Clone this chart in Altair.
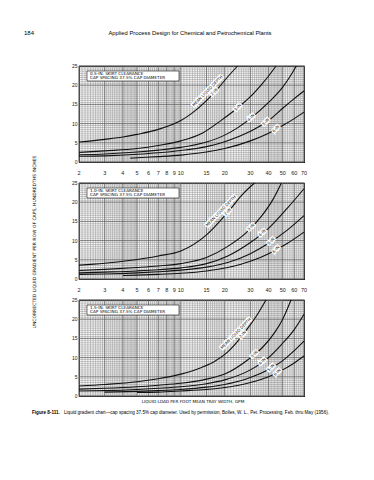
import altair as alt
import numpy as np
import pandas as pd

# ---------------- data ----------------
X_TICKS = [2, 3, 4, 5, 6, 7, 8, 9, 10, 15, 20, 30, 40, 50, 60, 70]
Y_TICKS = [0, 5, 10, 15, 20, 25]
DEPTHS = ["2-IN", "3-IN", "4-IN", "5-IN", "6-IN"]
CLEARANCES = ["0.5-IN. SKIRT CLEARANCE", "1.0-IN. SKIRT CLEARANCE", "1.5-IN. SKIRT CLEARANCE"]
SPACING_NOTE = "CAP SPACING 37.5% CAP DIAMETER"
MEAN_LABEL = "MEAN LIQUID DEPTH"
HEADER_PAGE = "184"
HEADER_TITLE = "Applied Process Design for Chemical and Petrochemical Plants"
X_TITLE = "LIQUID LOAD PER FOOT MEAN TRAY WIDTH, GPM"
Y_TITLE = "UNCORRECTED LIQUID GRADIENT PER ROW OF CAPS, HUNDREDTHS INCHES"
CAPTION_BOLD = "Figure 8-111."
CAPTION_REST = ("Liquid gradient chart\u2014cap spacing 37.5% cap diameter. Used by permission, "
                "Bolles, W. L., Pet. Processing, Feb. thru May (1956).")

# panel 1: 0.5-in skirt clearance
p1_x = [
    [2, 3, 4, 5, 7, 10, 12, 15, 18, 21, 24.5],
    [2, 3, 5, 7, 10, 14, 19, 24, 30, 36, 40, 45],
    [2, 3, 5, 7, 10, 15, 20, 30, 40, 50, 56, 62],
    [2, 3, 5, 7, 10, 15, 20, 30, 40, 50, 60, 70],
    [4.5, 5, 7, 10, 15, 20, 30, 40, 50, 60, 70],
]
p1_y = [
    [5.2, 5.9, 6.5, 7.2, 8.5, 10.8, 12.8, 16.0, 19.2, 22.2, 25],
    [2.5, 2.9, 3.5, 4.3, 5.5, 7.5, 10.9, 13.8, 17.0, 20.3, 22.4, 25],
    [1.9, 2.1, 2.6, 3.1, 3.8, 5.2, 7.0, 11.3, 15.5, 19.5, 22.2, 25],
    [1.5, 1.6, 2.0, 2.4, 3.0, 4.0, 5.3, 8.0, 10.8, 14.0, 16.5, 18.5],
    [1.0, 1.1, 1.4, 1.8, 2.6, 3.5, 5.5, 7.5, 9.5, 11.3, 13.0],
]
p1_label_x = [17, 24.6, 30.4, 38.4, 45]

# panel 2: 1.0-in skirt clearance
p2_x = [
    [2, 3, 4.4, 7, 10, 15, 21, 26.6, 32],
    [2, 3, 5, 7, 10, 15, 21, 28, 36, 43, 49],
    [2, 3, 5, 7, 10, 15, 21, 30, 40, 54, 70],
    [2, 3, 5, 7, 10, 15, 21, 30, 40, 54, 70],
    [4, 5, 7, 10, 15, 21, 30, 40, 54, 70],
]
p2_y = [
    [3.6, 4.1, 4.8, 6.0, 7.3, 11.5, 17.4, 22.1, 25],
    [2.2, 2.5, 3.0, 3.4, 4.0, 5.6, 8.5, 12.0, 16.5, 20.8, 25],
    [1.6, 1.8, 2.1, 2.4, 2.9, 4.0, 6.0, 9.5, 13.2, 18.5, 23.5],
    [1.2, 1.3, 1.6, 1.9, 2.3, 3.1, 4.3, 6.6, 9.3, 12.8, 16.5],
    [0.9, 1.0, 1.2, 1.5, 2.1, 3.0, 4.6, 6.6, 9.3, 12.2],
]
p2_label_x = [21, 30.4, 36.3, 41.7, 45.1]

# panel 3: 1.5-in skirt clearance
p3_x = [
    [2, 3, 5, 7, 10, 14, 17, 21, 24.6, 29, 33.6, 38.4],
    [2, 3, 5, 7, 10, 15, 20, 29, 36, 44, 50, 57],
    [2, 3, 5, 7, 10, 15, 20, 30, 40, 49, 60, 70],
    [3, 5, 7, 10, 15, 20, 30, 40, 50, 60, 70],
    [5, 7, 10, 15, 20, 30, 40, 50, 60, 70],
]
p3_y = [
    [2.6, 3.0, 3.7, 4.5, 5.7, 7.5, 9.0, 11.5, 14.3, 17.8, 21.3, 25],
    [1.8, 2.0, 2.4, 2.8, 3.3, 4.4, 5.7, 9.5, 12.5, 16.5, 20.0, 25],
    [1.3, 1.4, 1.7, 2.0, 2.4, 3.2, 4.2, 6.8, 10.0, 13.4, 17.3, 21.3],
    [1.0, 1.2, 1.4, 1.7, 2.3, 3.0, 4.8, 6.9, 9.2, 11.8, 14.3],
    [0.9, 1.0, 1.3, 1.7, 2.2, 3.5, 5.0, 6.8, 8.6, 10.4],
]
p3_label_x = [26.6, 32.0, 36.3, 41.7, 46]

# ---------------- styling / layout ----------------
W, H = 225, 96
FONT = "Liberation Sans"
LFONT = "DejaVu Sans"
GRID_FINE = "#8c8c8c"
GRID_MAJOR = "#555555"

xscale = alt.Scale(type="log", domain=[2, 70], nice=False)
yscale = alt.Scale(domain=[0, 25], nice=False)

fine_x = np.concatenate([np.arange(2, 5, 0.1), np.arange(5, 10, 0.2), np.arange(10, 20, 0.5),
                         np.arange(20, 50, 1.0), np.arange(50, 70.01, 2.0)])
fine_y = np.arange(0, 25.01, 0.5)


def text_layer(txt, x, y, size, font=FONT, align="left", angle=0, weight="normal", color="#000"):
    df = pd.DataFrame({"t": [txt]})
    return alt.Chart(df).mark_text(
        align=align, baseline="middle", fontSize=size, font=font, angle=angle,
        fontWeight=weight, color=color
    ).encode(x=alt.value(x), y=alt.value(y), text="t:N")


def make_panel(xs, ys, label_x, clearance, show_x_labels, extras):
    rows = []
    for d, cx, cy in zip(DEPTHS, xs, ys):
        for i, (a, b) in enumerate(zip(cx, cy)):
            rows.append({"depth": d, "x": a, "y": b, "i": i})
    df = pd.DataFrame(rows)

    lab = []
    for j, (d, lx, cx, cy) in enumerate(zip(DEPTHS, label_x, xs, ys)):
        ly = float(np.interp(np.log10(lx), np.log10(cx), cy))
        lab.append({"depth": d, "x": lx, "y": ly, "first": j == 0})
    ldf = pd.DataFrame(lab)

    vfine = alt.Chart(pd.DataFrame({"g": fine_x})).mark_rule(
        color=GRID_FINE, strokeWidth=0.5).encode(x=alt.X("g:Q", scale=xscale, axis=None))
    hfine = alt.Chart(pd.DataFrame({"g": fine_y})).mark_rule(
        color=GRID_FINE, strokeWidth=0.5).encode(y=alt.Y("g:Q", scale=yscale, axis=None))
    vmaj = alt.Chart(pd.DataFrame({"g": X_TICKS})).mark_rule(
        color=GRID_MAJOR, strokeWidth=0.6).encode(x=alt.X("g:Q", scale=xscale, axis=None))
    hmaj = alt.Chart(pd.DataFrame({"g": Y_TICKS})).mark_rule(
        color=GRID_MAJOR, strokeWidth=0.6).encode(y=alt.Y("g:Q", scale=yscale, axis=None))

    curves = alt.Chart(df).mark_line(color="#111", strokeWidth=1.1, interpolate="monotone").encode(
        x=alt.X("x:Q", scale=xscale, axis=None),
        y=alt.Y("y:Q", scale=yscale, axis=None),
        detail="depth:N",
        order="i:Q",
    )

    # tick labels drawn from the tick arrays through the same scales
    ylab = alt.Chart(pd.DataFrame({"v": Y_TICKS})).mark_text(
        align="right", baseline="middle", fontSize=5, font=FONT, color="#222").encode(
        x=alt.value(-1.5), y=alt.Y("v:Q", scale=yscale, axis=None), text=alt.Text("v:Q", format="d"))
    layers_lab = [ylab]
    if show_x_labels:
        xlab = alt.Chart(pd.DataFrame({"v": X_TICKS})).mark_text(
            align="center", baseline="middle", fontSize=5.5, font=FONT, color="#222").encode(
            x=alt.X("v:Q", scale=xscale, axis=None), y=alt.value(H + 10.5),
            text=alt.Text("v:Q", format="d"))
        layers_lab.append(xlab)

    box = alt.Chart(pd.DataFrame({"t": [clearance]})).mark_rect(
        fill="white", stroke="#111", strokeWidth=0.6).encode(
        x=alt.value(8), x2=alt.value(100), y=alt.value(5), y2=alt.value(15))
    box_t1 = text_layer(clearance, 11, 8, 4.2, font=LFONT)
    box_t2 = text_layer(SPACING_NOTE, 11, 12.3, 4.2, font=LFONT)

    lbl_common = dict(align="center", baseline="middle", fontSize=4, font=LFONT, angle=314)
    enc = dict(x=alt.X("x:Q", scale=xscale, axis=None), y=alt.Y("y:Q", scale=yscale, axis=None))
    halo = alt.Chart(ldf).mark_text(stroke="white", strokeWidth=2.4, color="white", **lbl_common).encode(
        text="depth:N", **enc)
    lbls = alt.Chart(ldf).mark_text(color="#111", **lbl_common).encode(text="depth:N", **enc)
    mdf = ldf[ldf["first"]].assign(t=MEAN_LABEL)
    mhalo = alt.Chart(mdf).mark_text(stroke="white", strokeWidth=2.4, color="white", dy=-5.5, dx=-4,
                                     **lbl_common).encode(text="t:N", **enc)
    mlbl = alt.Chart(mdf).mark_text(color="#111", dy=-5.5, dx=-4, **lbl_common).encode(text="t:N", **enc)

    layers = ([vfine, hfine, vmaj, hmaj, curves, box, box_t1, box_t2, halo, mhalo, lbls, mlbl]
              + layers_lab + extras)
    return alt.layer(*layers).properties(width=W, height=H)


top_extras = [
    text_layer(HEADER_PAGE, -55, -33, 6),
    text_layer(HEADER_TITLE, 111, -33, 5.8, align="center"),
]
mid_extras = [
    text_layer(Y_TITLE, -44, 59, 4.5, font=LFONT, align="center", angle=270),
]
bot_extras = [
    text_layer(X_TITLE, 114, 102, 4.2, font=LFONT, align="center"),
    text_layer(CAPTION_BOLD, -47, 113, 4.6, weight="bold"),
    text_layer(CAPTION_REST, -15, 113, 4.6),
]

p1 = make_panel(p1_x, p1_y, p1_label_x, CLEARANCES[0], True, top_extras)
p2 = make_panel(p2_x, p2_y, p2_label_x, CLEARANCES[1], True, mid_extras)
p3 = make_panel(p3_x, p3_y, p3_label_x, CLEARANCES[2], False, bot_extras)

chart = alt.vconcat(p1, p2, p3, spacing=21, bounds="flush").properties(
    padding={"left": 15, "top": 21, "right": 5, "bottom": 5},
    background="white",
).configure_view(stroke="#111", strokeWidth=1.1)

chart.save("out.html", embed_options={"renderer": "svg", "actions": False})
